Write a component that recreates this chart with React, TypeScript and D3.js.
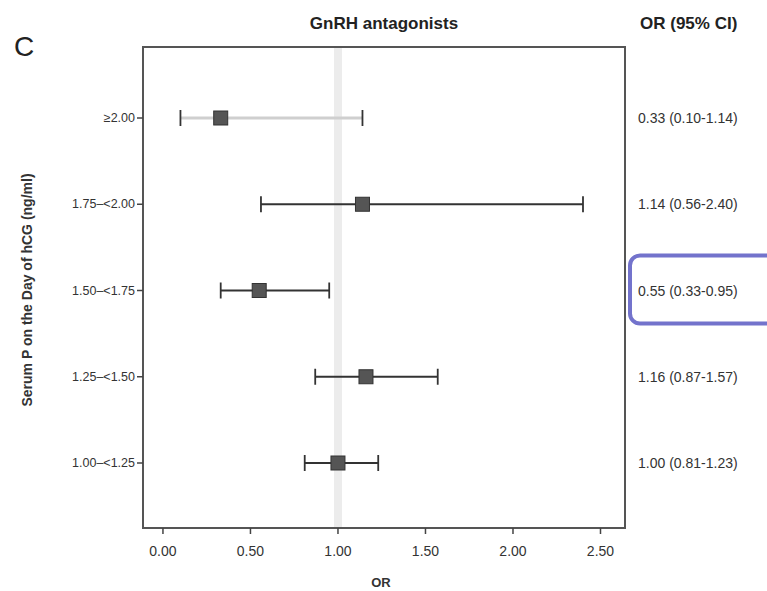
import React from "react";
import * as d3 from "d3";

const categories = ["≥2.00", "1.75–<2.00", "1.50–<1.75", "1.25–<1.50", "1.00–<1.25"];
const orValues = [0.33, 1.14, 0.55, 1.16, 1.0];
const lowerCI = [0.1, 0.56, 0.33, 0.87, 0.81];
const upperCI = [1.14, 2.4, 0.95, 1.57, 1.23];
const orLabels = ["0.33 (0.10-1.14)", "1.14 (0.56-2.40)", "0.55 (0.33-0.95)", "1.16 (0.87-1.57)", "1.00 (0.81-1.23)"];
const xTicks = [0, 0.5, 1, 1.5, 2, 2.5];

export default function App() {
  const W = 767, H = 591;
  const left = 143, right = 625, top = 47, bottom = 528;
  const x = d3.scaleLinear().domain([-0.114, 2.64]).range([left, right]);
  const y = d3.scalePoint<string>().domain(categories).range([118, 463]);
  const font = "Liberation Sans, Arial, sans-serif";
  const hiIdx = 2;
  return (
    <svg width={W} height={H} style={{ position: "absolute", left: 0, top: 0, background: "#fff" }} fontFamily={font}>
      <rect x={0} y={0} width={W} height={H} fill="#fff" />
      <text x={14} y={56} fontSize={28} fill="#222">C</text>
      <text x={384} y={29} fontSize={17} fill="#222" textAnchor="middle" fontWeight="bold">GnRH antagonists</text>
      <text x={640} y={29} fontSize={17} fill="#222" fontWeight="bold">OR (95% CI)</text>
      {/* reference band */}
      <rect x={x(1) - 4} y={top} width={8} height={bottom - top} fill="#ececec" />
      {/* frame */}
      <rect x={left} y={top} width={right - left} height={bottom - top} fill="none" stroke="#555" strokeWidth={2} />
      {/* x ticks */}
      {xTicks.map((t) => (
        <g key={t}>
          <line x1={x(t)} x2={x(t)} y1={bottom} y2={bottom + 6} stroke="#444" strokeWidth={1.5} />
          <text x={x(t)} y={556} fontSize={14} fill="#333" textAnchor="middle">{t.toFixed(2)}</text>
        </g>
      ))}
      <text x={381} y={587} fontSize={13} fill="#333" textAnchor="middle" fontWeight="bold">OR</text>
      {/* y ticks and labels */}
      {categories.map((c) => (
        <g key={c}>
          <line x1={left - 6} x2={left} y1={y(c)} y2={y(c)} stroke="#444" strokeWidth={1.5} />
          <text x={left - 8} y={(y(c) as number) + 4} fontSize={12.5} fill="#333" textAnchor="end">{c}</text>
        </g>
      ))}
      <text transform={`translate(32,${290}) rotate(-90)`} fontSize={14} fill="#333" textAnchor="middle" fontWeight="bold">
        Serum P on the Day of hCG (ng/ml)
      </text>
      {/* error bars */}
      {categories.map((c, i) => {
        const cy = y(c) as number;
        const col = i === 0 ? "#cfcfcf" : "#333";
        return (
          <g key={c}>
            <line x1={x(lowerCI[i])} x2={x(upperCI[i])} y1={cy} y2={cy} stroke={col} strokeWidth={i === 0 ? 3 : 1.8} />
            <line x1={x(lowerCI[i])} x2={x(lowerCI[i])} y1={cy - 8} y2={cy + 8} stroke="#333" strokeWidth={1.8} />
            <line x1={x(upperCI[i])} x2={x(upperCI[i])} y1={cy - 8} y2={cy + 8} stroke="#333" strokeWidth={1.8} />
            <rect x={x(orValues[i]) - 7} y={cy - 7} width={14} height={14} fill="#555" stroke="#333" strokeWidth={1} />
          </g>
        );
      })}
      {/* right column */}
      {categories.map((c, i) => (
        <text key={c} x={638} y={(y(c) as number) + 5} fontSize={14} fill="#333">{orLabels[i]}</text>
      ))}
      <rect x={630} y={(y(categories[hiIdx]) as number) - 35} width={150} height={68} rx={10} ry={10} fill="none" stroke="#7373cc" strokeWidth={4} />
    </svg>
  );
}
